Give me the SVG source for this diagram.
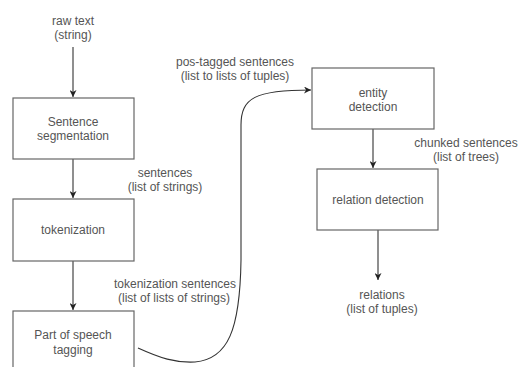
<svg xmlns="http://www.w3.org/2000/svg" width="518" height="367" viewBox="0 0 518 367">
<defs>
<style>
.box{fill:#fff;stroke:#666;stroke-width:1.2}
.t{font-family:"Liberation Sans",Arial,sans-serif;font-size:12px;fill:#555;text-anchor:middle}
.e{fill:none;stroke:#333;stroke-width:1.1}
</style>
<marker id="ah" viewBox="0 0 10 10" refX="10" refY="5" markerWidth="7" markerHeight="7" orient="auto" markerUnits="userSpaceOnUse">
<path d="M0,0 L10,5 L0,10 L3,5 z" fill="#222"/>
</marker>
</defs>
<rect width="518" height="367" fill="#fff"/>
<g id="connectors">
<line class="e" x1="73" y1="47" x2="73" y2="97" marker-end="url(#ah)"/>
<line class="e" x1="73" y1="159" x2="73" y2="198" marker-end="url(#ah)"/>
<line class="e" x1="73" y1="261" x2="73" y2="310" marker-end="url(#ah)"/>
<path class="e" d="M138,348 C160,358 175,363 195,362 C228,359 240,330 241,260 L241,125 C241,98 255,90 311,90" marker-end="url(#ah)"/>
<line class="e" x1="373" y1="129" x2="373" y2="168" marker-end="url(#ah)"/>
<line class="e" x1="378" y1="230" x2="378" y2="280" marker-end="url(#ah)"/>
</g>
<g id="raw-text">
<text class="t" x="73" y="25">raw text</text>
<text class="t" x="73" y="39">(string)</text>
</g>
<g id="sentence-segmentation">
<rect class="box" x="13" y="98" width="121" height="61"/>
<text class="t" x="73" y="126">Sentence</text>
<text class="t" x="73" y="140">segmentation</text>
</g>
<g id="tokenization">
<rect class="box" x="13" y="199" width="121" height="62"/>
<text class="t" x="73" y="234">tokenization</text>
</g>
<g id="pos-tagging">
<rect class="box" x="13" y="311" width="121" height="70"/>
<text class="t" x="73" y="339">Part of speech</text>
<text class="t" x="73" y="354">tagging</text>
</g>
<g id="entity-detection">
<rect class="box" x="312" y="68" width="122" height="61"/>
<text class="t" x="373" y="97">entity</text>
<text class="t" x="373" y="111">detection</text>
</g>
<g id="relation-detection">
<rect class="box" x="317" y="169" width="121" height="61"/>
<text class="t" x="378" y="204">relation detection</text>
</g>
<g id="labels">
<text class="t" x="165" y="177">sentences</text>
<text class="t" x="165" y="191">(list of strings)</text>
<text class="t" x="175" y="288">tokenization sentences</text>
<text class="t" x="174" y="302">(list of lists of strings)</text>
<text class="t" x="235" y="66">pos-tagged sentences</text>
<text class="t" x="235" y="80">(list to lists of tuples)</text>
<text class="t" x="466" y="147">chunked sentences</text>
<text class="t" x="466" y="161">(list of trees)</text>
<text class="t" x="382" y="299">relations</text>
<text class="t" x="382" y="313">(list of tuples)</text>
</g>
</svg>
